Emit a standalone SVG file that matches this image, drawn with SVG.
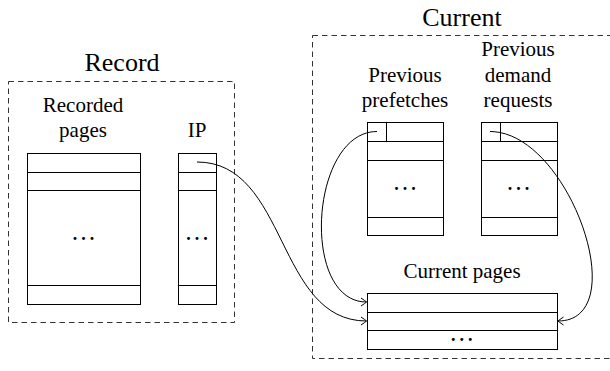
<svg xmlns="http://www.w3.org/2000/svg" width="610" height="371" viewBox="0 0 610 371">
<defs>
<marker id="ar" viewBox="-6 -5 7 10" refX="0" refY="0" markerWidth="7" markerHeight="10" markerUnits="userSpaceOnUse" orient="auto">
<path d="M-5.5,-4 Q-1,-1 0,0 Q-1,1 -5.5,4" fill="none" stroke="#000" stroke-width="1"/>
</marker>
</defs>
<g id="record">
<rect x="8.5" y="81.5" width="226" height="241" fill="none" stroke="#333" stroke-dasharray="5.5,4"/>
<text x="122" y="71" font-family="Liberation Serif" font-size="26" text-anchor="middle">Record</text>
</g>
<g id="current">
<rect x="312.5" y="35.5" width="310" height="323" fill="none" stroke="#333" stroke-dasharray="5.5,4"/>
<text x="462" y="26" font-family="Liberation Serif" font-size="26" text-anchor="middle">Current</text>
</g>
<g id="recorded-pages">
<text x="83" y="112" font-family="Liberation Serif" font-size="21" text-anchor="middle">Recorded</text>
<text x="83" y="137" font-family="Liberation Serif" font-size="21" text-anchor="middle">pages</text>
<rect x="27.5" y="153.5" width="113" height="151" fill="#fff" stroke="#000"/>
<path d="M27.5,172.5H140.5M27.5,190.5H140.5M27.5,285.5H140.5" stroke="#000" fill="none"/>
<text x="85.5" y="240" font-family="Liberation Serif" font-size="18" font-weight="bold" letter-spacing="4" text-anchor="middle">...</text>
</g>
<g id="ip">
<text x="197" y="137" font-family="Liberation Serif" font-size="21" text-anchor="middle">IP</text>
<rect x="178.5" y="153.5" width="38" height="151" fill="#fff" stroke="#000"/>
<path d="M178.5,172.5H216.5M178.5,190.5H216.5M178.5,285.5H216.5" stroke="#000" fill="none"/>
<text x="199" y="240" font-family="Liberation Serif" font-size="18" font-weight="bold" letter-spacing="4" text-anchor="middle">...</text>
</g>
<g id="previous-prefetches">
<text x="405" y="82" font-family="Liberation Serif" font-size="21" text-anchor="middle">Previous</text>
<text x="405" y="107" font-family="Liberation Serif" font-size="21" text-anchor="middle">prefetches</text>
<rect x="367.5" y="122.5" width="76" height="113" fill="#fff" stroke="#000"/>
<path d="M367.5,141.5H443.5M367.5,160.5H443.5M367.5,217.5H443.5M386.5,122.5V141.5" stroke="#000" fill="none"/>
<text x="407" y="190" font-family="Liberation Serif" font-size="18" font-weight="bold" letter-spacing="4" text-anchor="middle">...</text>
</g>
<g id="previous-demand-requests">
<text x="518" y="56" font-family="Liberation Serif" font-size="21" text-anchor="middle">Previous</text>
<text x="518" y="82" font-family="Liberation Serif" font-size="21" text-anchor="middle">demand</text>
<text x="518" y="107" font-family="Liberation Serif" font-size="21" text-anchor="middle">requests</text>
<rect x="481.5" y="122.5" width="76" height="113" fill="#fff" stroke="#000"/>
<path d="M481.5,141.5H557.5M481.5,160.5H557.5M481.5,217.5H557.5M500.5,122.5V141.5" stroke="#000" fill="none"/>
<text x="520.5" y="190" font-family="Liberation Serif" font-size="18" font-weight="bold" letter-spacing="4" text-anchor="middle">...</text>
</g>
<g id="current-pages">
<text x="462" y="278" font-family="Liberation Serif" font-size="21" text-anchor="middle">Current pages</text>
<rect x="367.5" y="293.5" width="190" height="56" fill="#fff" stroke="#000"/>
<path d="M367.5,312.5H557.5M367.5,330.5H557.5" stroke="#000" fill="none"/>
<text x="463.7" y="341" font-family="Liberation Serif" font-size="18" font-weight="bold" letter-spacing="4" text-anchor="middle">...</text>
</g>
<g id="connectors" fill="none" stroke="#000" marker-end="url(#ar)">
<path d="M197,162 C288,162 276,321 366.5,321"/>
<path d="M377,131.5 C310,131.5 300,302 366.5,302"/>
<path d="M490,131.5 C569,131.5 635,321 558,321"/>
</g>
</svg>
